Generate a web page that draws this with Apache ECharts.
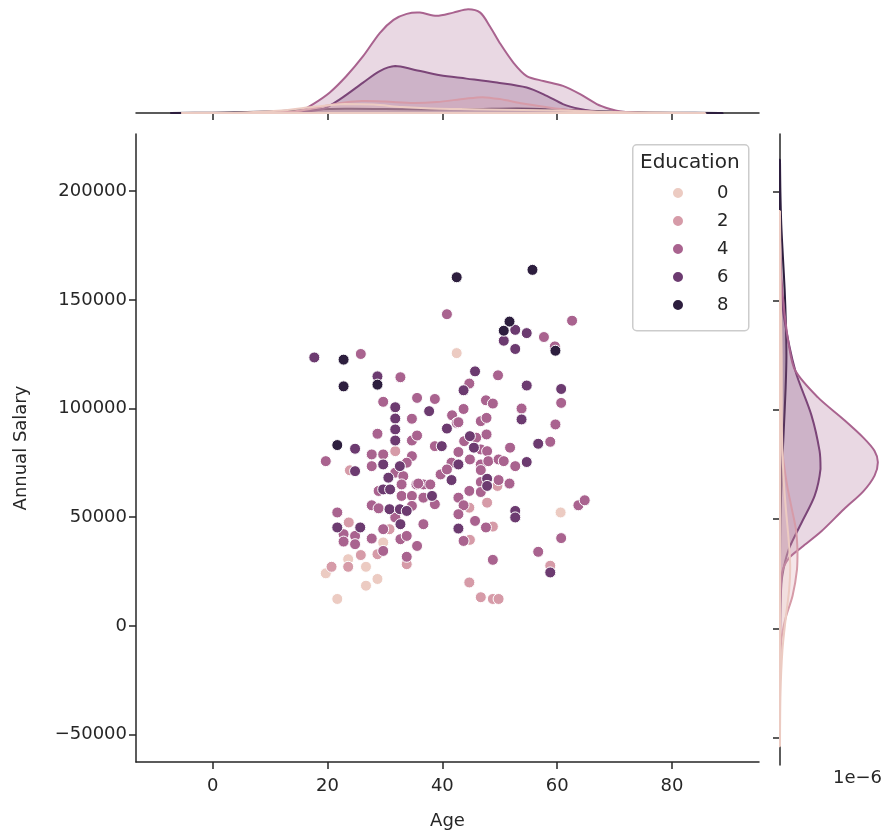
<!DOCTYPE html>
<html><head><meta charset="utf-8">
<script src="https://cdn.jsdelivr.net/npm/echarts@6.0.0/dist/echarts.min.js"></script>
<style>html,body{margin:0;padding:0;background:#fff}#c{width:884px;height:835px}</style>
</head><body><div id="c"></div>
<script>
// ---------- data ----------
const educationLevels = ['0', '2', '4', '6', '8'];
const xTicks = [0, 20, 40, 60, 80];
const yTicks = [-50000, 0, 50000, 100000, 150000, 200000];

// scatter points [Age, Annual Salary]
const edu0Points = [[42.5,125500],[23.6,30700],[19.7,24200],[26.7,27200],[28.7,21600],[26.7,18500],[21.7,12400],[60.6,52200],[29.7,38400]];
const edu2Points = [[31.8,80400],[23.9,71600],[23.7,47600],[30.8,44500],[28.7,33000],[25.8,32600],[23.6,27200],[20.7,27200],[33.8,28400],[44.7,54400],[47.8,56700],[49.6,64400],[48.8,45700],[44.8,39600],[58.8,27700],[44.7,20000],[46.7,13200],[48.8,12400],[49.8,12400]];
const edu4Points = [[40.8,143400],[25.8,125100],[32.7,114400],[29.7,103100],[35.6,104900],[38.7,104400],[41.7,96900],[34.7,95300],[42.5,93400],[28.7,88400],[34.7,85300],[35.6,87600],[38.7,82700],[19.7,75800],[27.7,78900],[29.7,78900],[34.7,78100],[27.7,73500],[33.8,75100],[31.8,70500],[33.2,68900],[28.9,62100],[32.9,65100],[32.9,59800],[34.7,59800],[35.5,65100],[36.7,65100],[37.9,65100],[36.7,59000],[38.7,56000],[27.7,55500],[28.9,54100],[34.7,55200],[31.8,49900],[36.7,46800],[21.7,52200],[22.8,42200],[24.8,41400],[22.8,38800],[24.8,37600],[29.7,44500],[27.7,40200],[29.7,34500],[32.7,39900],[33.8,41400],[35.6,36800],[33.8,31800],[62.6,140400],[57.7,132900],[59.6,128600],[49.7,115300],[44.7,111500],[60.7,102600],[43.7,99800],[47.6,103800],[48.8,102300],[53.8,100000],[42.8,93700],[46.7,94200],[47.7,95700],[59.7,92700],[43.8,85000],[45.9,86600],[47.7,88100],[58.8,84700],[51.8,82000],[46.7,81200],[47.8,80400],[42.8,80000],[41.6,75100],[44.8,76600],[46.7,74300],[46.7,71700],[48.0,75800],[49.8,76600],[50.7,75800],[52.7,73500],[39.7,69700],[40.8,72000],[46.7,66200],[49.8,67100],[51.7,65500],[35.8,65500],[42.8,59000],[44.7,62100],[46.7,61600],[43.7,55500],[42.8,51400],[45.7,48300],[47.6,45300],[63.7,55500],[64.8,57800],[43.7,39100],[60.7,40400],[56.7,34100],[48.8,30400]];
const edu6Points = [[17.7,123500],[28.7,114800],[31.8,100600],[37.7,98800],[43.7,108400],[31.8,95400],[40.8,90800],[31.8,90400],[31.8,85300],[24.8,81500],[39.9,82700],[24.8,71200],[29.7,74300],[32.6,73500],[30.6,68200],[29.7,62800],[30.9,62800],[38.2,59800],[30.8,53700],[32.6,53700],[33.8,52900],[32.7,46800],[21.7,45300],[25.7,45300],[52.7,136200],[54.7,134700],[50.7,131200],[52.7,127400],[45.7,117100],[54.7,110600],[60.7,109000],[53.8,95000],[44.8,87300],[56.7,83800],[45.5,82000],[42.8,74300],[54.7,75400],[41.6,67100],[47.8,67700],[47.8,64400],[52.7,52900],[52.7,49900],[42.8,44800],[58.8,24600]];
const edu8Points = [[42.5,160400],[55.7,163800],[22.8,122500],[22.8,110200],[28.7,111000],[21.7,83200],[51.7,140000],[50.7,135800],[59.7,126600]];

// top marginal density curves [Age, density]
const topKde0 = [[-5.5,0],[0,0.00006],[5,0.0001],[12,0.00049],[18,0.00127],[23,0.00176],[28,0.00166],[33,0.00117],[38,0.00088],[43,0.00078],[48,0.00068],[54,0.00059],[60,0.00049],[66,0.00029],[74,0.00012],[80,0.00004],[85.8,0]];
const topKde2 = [[1.5,0],[8,0.00006],[14,0.00029],[18,0.00098],[22,0.00195],[26,0.00235],[30,0.00225],[35,0.00195],[39,0.00215],[44,0.00283],[47,0.00313],[50,0.00274],[54,0.00186],[58,0.00117],[62,0.00059],[68,0.00016],[74,0.00003],[78,0]];
const topKde4 = [[9.2,0],[12,0.00006],[15,0.00029],[17.5,0.00176],[20.4,0.00405],[23.3,0.00729],[26.2,0.0112],[29.1,0.01577],[31.5,0.01837],[33.8,0.01955],[36.1,0.0198],[39,0.01916],[41.9,0.0198],[44.5,0.02047],[46.6,0.0198],[48.3,0.01706],[50,0.01382],[52.4,0.00991],[54.7,0.00729],[57.6,0.00631],[61,0.00534],[64,0.00371],[66.9,0.00176],[69.2,0.00078],[71,0.00029],[74,0.00006],[75.5,0]];
const topKde6 = [[3.7,0],[10,0.00004],[15,0.0002],[19.2,0.00078],[22.2,0.00274],[26.2,0.006],[29.1,0.00827],[31.8,0.00925],[34.9,0.0086],[39.6,0.00743],[44.2,0.00678],[49.5,0.006],[54.7,0.00502],[58.2,0.00338],[61,0.00176],[64,0.00078],[67,0.0002],[71,0.00004],[74.7,0]];
const topKde8 = [[-7.4,0],[0,0.00006],[8,0.00023],[16,0.00059],[23,0.00082],[30,0.00078],[38,0.0007],[46,0.00078],[53,0.00088],[60,0.00068],[68,0.00035],[76,0.00012],[84,0.00003],[88.8,0]];

// right marginal density curves [Annual Salary, density in 1e-6]
const rightKde0 = [[-54000,0],[-30000,0.035],[-10000,0.176],[5000,0.423],[18000,0.67],[28000,0.741],[40000,0.635],[55000,0.423],[70000,0.247],[90000,0.141],[110000,0.127],[125000,0.12],[145000,0.071],[170000,0.021],[191000,0]];
const rightKde2 = [[-19000,0],[-5000,0.106],[5000,0.423],[15000,0.917],[27000,1.235],[35000,1.27],[45000,1.164],[55000,0.847],[65000,0.529],[75000,0.282],[85000,0.106],[100000,0.021],[112000,0]];
const rightKde4 = [[-20000,0],[0,0.014],[13500,0.035],[25800,0.162],[32000,0.635],[37100,1.573],[44300,2.985],[54500,4.636],[62700,6.047],[69900,6.866],[76000,7.105],[81200,6.866],[87300,6.047],[95500,4.636],[105700,2.752],[118000,1.108],[130000,0.635],[145000,0.318],[160000,0.106],[175000,0.021],[185000,0]];
const rightKde6 = [[-10000,0],[0,0.007],[13500,0.049],[23800,0.162],[36100,0.635],[48400,1.573],[60700,2.519],[73000,2.942],[81200,2.872],[97600,2.279],[118000,1.108],[142600,0.282],[155000,0.106],[171000,0]];
const rightKde8 = [[32000,0],[50000,0.035],[70000,0.127],[90000,0.268],[110000,0.409],[125000,0.466],[140000,0.423],[155000,0.339],[170000,0.212],[185000,0.092],[200000,0.028],[214500,0]];

// ---------- styling ----------
const palette = ['#eccbc2', '#d69ba8', '#a9638f', '#6c3b70', '#2d1e3e'];
const FONT = 'DejaVu Sans';
const TXT = '#262626';
const AX = '#262626';
function rgba(hex, a) {
  const n = parseInt(hex.slice(1), 16);
  return 'rgba(' + (n >> 16) + ',' + ((n >> 8) & 255) + ',' + (n & 255) + ',' + a + ')';
}
const fmt = v => (v < 0 ? '\u2212' + (-v) : String(v));

const scatterData = [edu0Points, edu2Points, edu4Points, edu6Points, edu8Points];
const topCurves = [topKde0, topKde2, topKde4, topKde6, topKde8];
const rightCurves = [rightKde0, rightKde2, rightKde4, rightKde6, rightKde8];

const X_MIN = -13.36, X_MAX = 95.16, Y_MIN = -62600, Y_MAX = 226300;

function kdeSeries(curve, color, xi, yi, vertical, name) {
  return {
    type: 'custom', name: name, xAxisIndex: xi, yAxisIndex: yi, silent: true,
    clip: false, z: 2,
    data: [[curve[0][0], curve[0][1]]],
    renderItem: function (params, api) {
      const pts = curve.map(p => api.coord(vertical ? [p[1], p[0]] : [p[0], p[1]]));
      let minX = Infinity, minY = Infinity, maxX = -Infinity, maxY = -Infinity;
      pts.forEach(p => { minX = Math.min(minX, p[0]); minY = Math.min(minY, p[1]); maxX = Math.max(maxX, p[0]); maxY = Math.max(maxY, p[1]); });
      return {
        type: 'polygon',
        shape: { points: pts, smooth: 0.3, smoothConstraint: [[minX, minY], [maxX, maxY]] },
        style: { fill: rgba(color, 0.25), stroke: color, lineWidth: 2 }
      };
    }
  };
}

const series = [];
for (let i = 0; i < 5; i++) {
  series.push({
    type: 'scatter', name: educationLevels[i], xAxisIndex: 0, yAxisIndex: 0,
    data: scatterData[i], symbolSize: 11,
    itemStyle: { color: palette[i], borderColor: '#ffffff', borderWidth: 1, opacity: 1 },
    emphasis: { disabled: true }, z: 3
  });
}
for (let i = 4; i >= 0; i--) {
  series.push(kdeSeries(topCurves[i], palette[i], 1, 1, false, 'top' + i));
  series.push(kdeSeries(rightCurves[i], palette[i], 2, 2, true, 'right' + i));
}

function axisLineStyle() { return { show: true, onZero: false, lineStyle: { color: AX, width: 1.5 } }; }
function tickStyle(vals) { return { show: true, customValues: vals, length: 7, lineStyle: { color: AX, width: 1.5 } }; }

const option = {
  animation: false,
  backgroundColor: '#ffffff',
  textStyle: { fontFamily: FONT },
  grid: [
    { left: 136, top: 134, width: 623, height: 631 },
    { left: 136, top: 4, width: 623, height: 109 },
    { left: 780, top: 134, width: 107, height: 631 }
  ],
  xAxis: [
    { gridIndex: 0, type: 'value', min: X_MIN, max: X_MAX,
      name: 'Age', nameLocation: 'middle', nameGap: 50,
      nameTextStyle: { fontFamily: FONT, fontSize: 18, color: TXT },
      axisLine: axisLineStyle(), axisTick: tickStyle(xTicks),
      axisLabel: { customValues: xTicks, margin: 15, fontFamily: FONT, fontSize: 18, color: TXT },
      splitLine: { show: false } },
    { gridIndex: 1, type: 'value', min: X_MIN, max: X_MAX,
      axisLine: axisLineStyle(), axisTick: tickStyle(xTicks),
      axisLabel: { show: false }, splitLine: { show: false } },
    { gridIndex: 2, type: 'value', min: 0, max: 7.55, show: false }
  ],
  yAxis: [
    { gridIndex: 0, type: 'value', min: Y_MIN, max: Y_MAX,
      name: 'Annual Salary', nameLocation: 'middle', nameGap: 106,
      nameTextStyle: { fontFamily: FONT, fontSize: 18, color: TXT },
      axisLine: axisLineStyle(), axisTick: tickStyle(yTicks),
      axisLabel: { customValues: yTicks, margin: 9, fontFamily: FONT, fontSize: 18, color: TXT, formatter: fmt },
      splitLine: { show: false } },
    { gridIndex: 1, type: 'value', min: 0, max: 0.0215, show: false },
    { gridIndex: 2, type: 'value', min: Y_MIN, max: Y_MAX,
      axisLine: axisLineStyle(), axisTick: tickStyle(yTicks),
      axisLabel: { show: false }, splitLine: { show: false } }
  ],
  legend: {
    data: educationLevels, orient: 'vertical', left: 671, top: 184,
    padding: 0, itemWidth: 12, itemHeight: 12, itemGap: 10, icon: 'circle',
    selectedMode: false, z: 12,
    textStyle: { fontFamily: FONT, fontSize: 18, color: TXT, lineHeight: 18, padding: [0, 0, 0, 28] }
  },
  graphic: [
    { type: 'rect', left: 632, top: 144, shape: { width: 116, height: 186, r: 4 },
      style: { fill: 'rgba(255,255,255,0.8)', stroke: '#cccccc', lineWidth: 1.5 }, z: 10 },
    { type: 'text', left: 640, top: 153, style: { text: 'Education', fontFamily: FONT, fontSize: 20, fill: TXT }, z: 11 },
    { type: 'text', right: 2, top: 769, style: { text: '1e\u22126', fontFamily: FONT, fontSize: 18, fill: TXT }, z: 11 }
  ],
  series: series
};
const chart = echarts.init(document.getElementById('c'), null, { renderer: 'canvas' });
chart.setOption(option);
</script>
</body></html>
